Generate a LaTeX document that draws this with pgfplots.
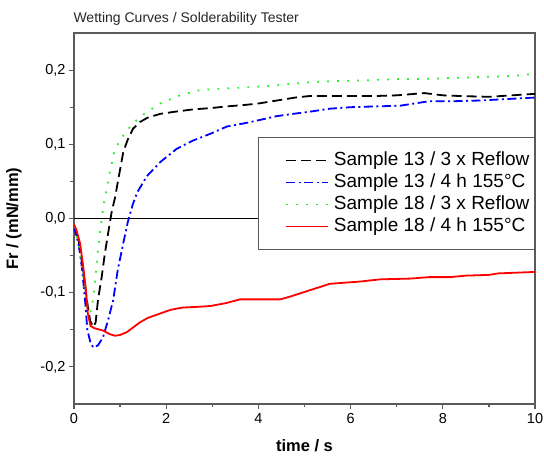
\documentclass[border=0pt]{standalone}
\usepackage{fontspec}
\setmainfont{Liberation Sans}
\usepackage{pgfplots}
\pgfplotsset{compat=1.18}
\definecolor{axgray}{RGB}{90,90,90}
\definecolor{lime}{RGB}{40,240,40}
\begin{document}
\begin{tikzpicture}
\begin{axis}[
  scale only axis, width=461pt, height=371pt,
  xmin=0, xmax=10, ymin=-0.25, ymax=0.25,
  axis line style={axgray, line width=1.6pt},
  tick style={axgray, line width=1.2pt},
  tick align=outside, tick pos=left,
  major tick length=5pt, minor tick length=3.5pt,
  xtick={0,2,4,6,8,10}, minor xtick={1,3,5,7,9},
  ytick={-0.2,-0.1,0,0.1,0.2}, minor ytick={-0.15,-0.05,0.05,0.15},
  yticklabels={{-0,2},{-0,1},{0,0},{0,1},{0,2}},
  xticklabel style={font=\fontsize{14.5}{16}\selectfont, yshift=-1pt},
  yticklabel style={font=\fontsize{14.5}{16}\selectfont},
  /pgf/number format/assume math mode=true,
  xlabel={\textbf{time / s}},
  ylabel={\textbf{Fr / (mN/mm)}},
  xlabel style={font=\fontsize{16.5}{18}\selectfont, yshift=-9pt},
  ylabel style={font=\fontsize{16.5}{18}\selectfont, yshift=2pt},
  extra y ticks={0}, extra y tick labels={},
  extra y tick style={grid=major, major grid style={black, line width=1pt}, tick style={draw=none}},
  legend style={at={(rel axis cs:1,0.72)}, anchor=north east, draw=axgray, line width=1.3pt, fill=white,
    font=\fontsize{19}{21}\selectfont, inner xsep=3pt, inner ysep=12pt, row sep=0pt,
    nodes={inner sep=2pt, text height=13.5pt, text depth=4.5pt}},
  legend cell align=left,
  legend image code/.code={\path (-24pt,0pt) (45pt,0pt); \draw[#1] plot coordinates {(0pt,0pt) (21pt,0pt) (42pt,0pt)};},
  every axis plot/.append style={line width=1.8pt},
  clip=true,
]
\addplot[black, dash pattern=on 10pt off 5pt] coordinates {
(0,-0.011) (0.1,-0.03) (0.2,-0.07) (0.28,-0.11) (0.35,-0.138) (0.42,-0.146) (0.47,-0.14)
(0.52,-0.11) (0.6,-0.079) (0.67,-0.047) (0.74,-0.02) (0.82,0.01) (0.89,0.028) (0.95,0.049)
(1.07,0.09) (1.17,0.107) (1.28,0.121) (1.43,0.13) (1.6,0.136) (1.87,0.141) (2.2,0.144) (2.58,0.147)
(3.0,0.149) (3.3,0.151) (3.7,0.153) (4.0,0.155) (4.4,0.159) (4.8,0.163) (5.1,0.165) (5.5,0.165)
(6,0.165) (6.5,0.165) (7,0.166) (7.6,0.169) (8,0.166) (8.4,0.165) (9,0.164) (9.5,0.166) (10,0.168)
};
\addlegendentry{Sample 13 / 3 x Reflow}
\addplot[blue, dash pattern=on 9pt off 3.5pt on 2pt off 3.5pt] coordinates {
(0,-0.011) (0.1,-0.035) (0.17,-0.065) (0.24,-0.11) (0.29,-0.15) (0.36,-0.168) (0.42,-0.174)
(0.52,-0.171) (0.63,-0.16) (0.74,-0.137) (0.85,-0.11) (0.95,-0.069) (1.07,-0.033) (1.17,-0.004)
(1.27,0.018) (1.37,0.035) (1.58,0.057) (1.87,0.076) (2.23,0.094) (2.58,0.105) (2.95,0.114)
(3.32,0.124) (3.67,0.128) (3.9,0.131) (4.4,0.138) (4.75,0.141) (5.12,0.144) (5.55,0.148)
(6,0.15) (6.5,0.151) (7.07,0.152) (7.7,0.158) (8.2,0.158) (8.8,0.159) (9.4,0.161) (10,0.163)
};
\addlegendentry{Sample 13 / 4 h 155°C}
\addplot[lime, dash pattern=on 1.8pt off 8.2pt] coordinates {
(0,-0.011) (0.13,-0.042) (0.22,-0.09) (0.3,-0.122) (0.35,-0.128) (0.4,-0.115) (0.46,-0.083)
(0.52,-0.042) (0.6,-0.001) (0.66,0.025) (0.71,0.04) (0.78,0.064) (0.89,0.094) (1.07,0.112)
(1.22,0.124) (1.43,0.137) (1.87,0.155) (2.3,0.166) (2.73,0.173) (3.17,0.175) (3.8,0.177)
(4.3,0.179) (4.8,0.182) (5.2,0.184) (5.6,0.185) (6.2,0.186) (7.07,0.188) (7.5,0.188)
(8,0.189) (8.5,0.19) (9,0.191) (9.5,0.192) (10,0.195)
};
\addlegendentry{Sample 18 / 3 x Reflow}
\addplot[red] coordinates {
(0,-0.008) (0.05,-0.015) (0.13,-0.033) (0.2,-0.065) (0.26,-0.097) (0.3,-0.128) (0.36,-0.145)
(0.45,-0.148) (0.63,-0.151) (0.78,-0.156) (0.89,-0.158) (1.0,-0.157) (1.15,-0.153) (1.3,-0.146)
(1.43,-0.14) (1.6,-0.134) (1.87,-0.128) (2.1,-0.123) (2.36,-0.12) (2.7,-0.119) (2.95,-0.118)
(3.3,-0.114) (3.6,-0.109) (4.03,-0.109) (4.47,-0.109) (4.7,-0.105) (5.1,-0.097) (5.55,-0.088)
(6.2,-0.085) (6.64,-0.082) (7.29,-0.081) (7.7,-0.079) (8.16,-0.079) (8.5,-0.077)
(9,-0.076) (9.2,-0.074) (9.6,-0.073) (10,-0.072)
};
\addlegendentry{Sample 18 / 4 h 155°C}
\end{axis}
\node[anchor=base west, font=\fontsize{14}{16}\selectfont, text=black!85] at (-4pt,381pt) {Wetting Curves / Solderability Tester};
\pgfresetboundingbox
\path[use as bounding box] (-74pt,-59pt) rectangle (470pt,404pt);
\end{tikzpicture}
\end{document}
